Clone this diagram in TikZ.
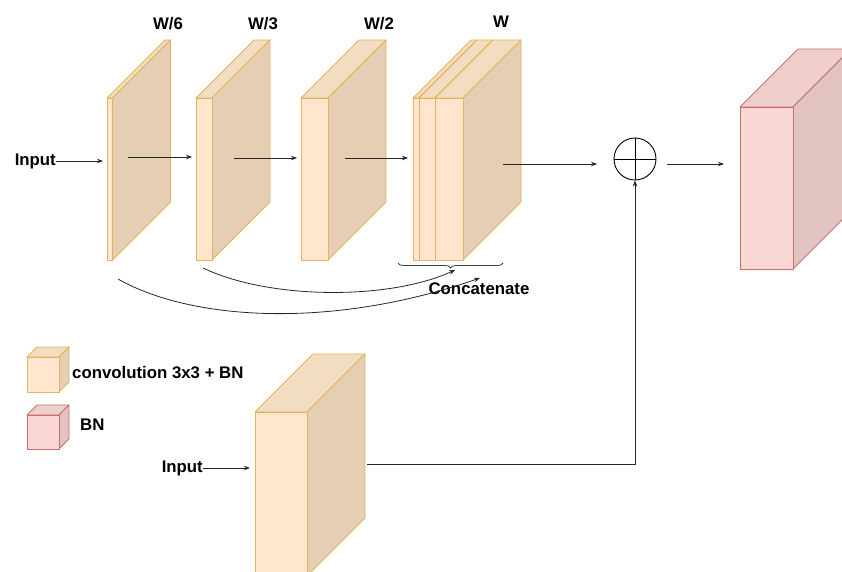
\documentclass[tikz,border=0pt]{standalone}
\usepackage{fontspec}
\setmainfont{Liberation Sans}
\usetikzlibrary{arrows.meta,decorations.pathreplacing}
\definecolor{yfr}{HTML}{FFE6CC}
\definecolor{ytp}{HTML}{F2DCC2}
\definecolor{ysd}{HTML}{E6CEB5}
\definecolor{yst}{HTML}{E3B45A}
\definecolor{rfr}{HTML}{F8D7D5}
\definecolor{rtp}{HTML}{EECFCC}
\definecolor{rsd}{HTML}{E1C4C1}
\definecolor{rst}{HTML}{C86F69}
\tikzset{
  yfront/.style={fill=yfr,draw=yst,line width=0.9pt,line join=round},
  ytop/.style={fill=ytp,draw=yst,line width=0.9pt,line join=round},
  yside/.style={fill=ysd,draw=yst,line width=0.9pt,line join=round},
  rfront/.style={fill=rfr,draw=rst,line width=0.9pt,line join=round},
  rtop/.style={fill=rtp,draw=rst,line width=0.9pt,line join=round},
  rside/.style={fill=rsd,draw=rst,line width=0.9pt,line join=round},
  conn/.style={draw=black!85,line width=0.8pt,-{Stealth[length=6pt,width=4.5pt]}},
  lbl/.style={font=\fontsize{16.8}{20}\selectfont\bfseries,inner sep=0pt},
}
% #1 name, #2 x, #3 y (front top-left), #4 width, #5 height, #6 depth, #7 style prefix
\newcommand\cuboid[7]{%
  \draw[#7top] (#2,#3) -- ++(#6,-#6) -- ++(#4,0) -- ++(-#6,#6) -- cycle;
  \draw[#7side] (#2+#4,#3) -- ++(#6,-#6) -- ++(0,#5) -- ++(-#6,#6) -- cycle;
  \draw[#7front] (#2,#3) rectangle ++(#4,#5);
  \coordinate (#1) at (#2,#3);
}
\begin{document}
\begin{tikzpicture}[x=1pt,y=-1pt]
\useasboundingbox (0,0) rectangle (842,572);
\clip (0,0) rectangle (842,572);
% blocks
\cuboid{b1}{107}{98}{5.5}{162}{58}{y}
\cuboid{b2}{196}{98}{16}{162}{58}{y}
\cuboid{b3}{301}{98}{27}{162}{58}{y}
\cuboid{b4a}{413}{98}{6}{162}{58}{y}
\cuboid{b4b}{419}{98}{16}{162}{58}{y}
\cuboid{b4c}{435}{98}{28}{162}{58}{y}
\cuboid{bn}{740}{107}{53}{162}{58}{r}
\cuboid{bb}{255}{412}{52}{164}{58}{y}
\cuboid{ly}{27}{357}{32}{35}{10}{y}
\cuboid{lr}{27}{415}{32}{34}{10}{r}
% labels
\node[lbl] (w6) at (168,24) {W/6};
\node[lbl] (w3) at (263,24) {W/3};
\node[lbl] (w2) at (379,24) {W/2};
\node[lbl] (w1) at (501,22) {W};
\node[lbl,anchor=west] (lt1) at (72,373) {convolution 3x3 + BN};
\node[lbl,anchor=west] (lt2) at (80,425) {BN};
\node[lbl,anchor=east] (in1) at (56,161) {Input};
\node[lbl,anchor=east] (in2) at (203,468) {Input};
\node[lbl] (cat) at (479,289) {Concatenate};
% plus
\node[circle,draw=black,line width=0.9pt,minimum size=42pt,inner sep=0pt] (plus) at (635,159) {};
\draw[line width=0.9pt] (plus.north) -- (plus.south) (plus.west) -- (plus.east);
% arrow coordinates
\coordinate (i1e) at (103,161);
\coordinate (a1s) at (128,157); \coordinate (a1e) at (192,157);
\coordinate (a2s) at (234,158); \coordinate (a2e) at (297,158);
\coordinate (a3s) at (345,158); \coordinate (a3e) at (408,158);
\coordinate (a4s) at (503,164); \coordinate (a4e) at (597,164);
\coordinate (a5s) at (667,164); \coordinate (a5e) at (724,164);
\coordinate (i2e) at (250,468);
\coordinate (rs) at (367,464); \coordinate (rc) at (635,464);
\coordinate (c1s) at (203,268); \coordinate (c1e) at (455,270);
\coordinate (c2s) at (118,279); \coordinate (c2e) at (480,278);
\coordinate (brL) at (398,263); \coordinate (brR) at (503,263);
\draw[conn] (in1.east) -- (i1e);
\draw[conn] (a1s) -- (a1e);
\draw[conn] (a2s) -- (a2e);
\draw[conn] (a3s) -- (a3e);
\draw[conn] (a4s) -- (a4e);
\draw[conn] (a5s) -- (a5e);
\draw[conn] (in2.east) -- (i2e);
\draw[conn] (rs) -- (rc) -- (plus.south);
\draw[conn] (c1s) .. controls (270,300) and (390,300) .. (c1e);
\draw[conn] (c2s) .. controls (190,320) and (330,330) .. (c2e);
\draw[draw=black!75,line width=0.8pt,decorate,decoration={brace,amplitude=5pt}] (brR) -- (brL);
\end{tikzpicture}
\end{document}
